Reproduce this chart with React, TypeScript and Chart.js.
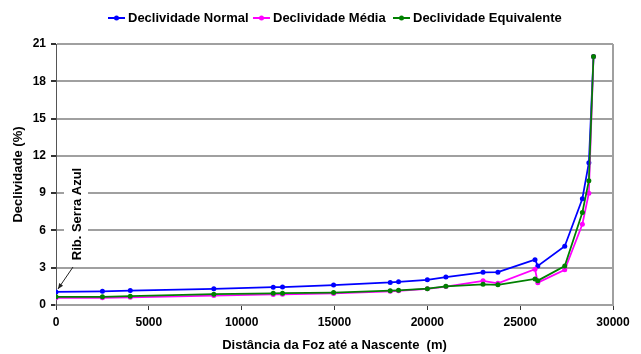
import React, { useEffect, useRef } from "react";
import { Chart, registerables } from "chart.js";

Chart.register(...registerables);

// Distance from the river mouth (m)
const distancia = [0, 2500, 4000, 8500, 11700, 12200, 14950, 18000, 18450, 20000, 21000, 23000, 23800, 25800, 25950, 27400, 28350, 28700, 28950];

// Slope (%) series
const declividadeNormal = [1.05, 1.1, 1.16, 1.3, 1.43, 1.44, 1.6, 1.82, 1.87, 2.03, 2.25, 2.63, 2.64, 3.65, 3.14, 4.73, 8.55, 11.45, 20.0];
const declividadeMedia = [0.58, 0.58, 0.62, 0.76, 0.85, 0.86, 0.93, 1.1, 1.14, 1.3, 1.48, 1.95, 1.74, 2.88, 1.8, 2.83, 6.5, 9.0, 20.0];
const declividadeEquivalente = [0.66, 0.66, 0.71, 0.87, 0.94, 0.95, 1.0, 1.15, 1.18, 1.31, 1.5, 1.66, 1.62, 2.1, 1.96, 3.13, 7.45, 10.0, 20.0];

const yTicks = [0, 3, 6, 9, 12, 15, 18, 21];
const xTicks = [0, 5000, 10000, 15000, 20000, 25000, 30000];

const legendLabels = ["Declividade Normal", "Declividade Média", "Declividade Equivalente"];
const seriesColors = ["#0000ff", "#ff00ff", "#008000"];

const yTitle = "Declividade (%)";
const xTitle = "Distância da Foz até a Nascente  (m)";
const annotationText = "Rib. Serra Azul";

const FONT = '"Liberation Sans", Arial, sans-serif';

const toPoints = (ys: number[]) => distancia.map((x, i) => ({ x, y: ys[i] }));

const decorations = {
  id: "decorations",
  afterDatasetsDraw(chart: any) {
    const { ctx, chartArea } = chart;
    ctx.save();

    // right border of the plot area
    ctx.strokeStyle = "#a0a0a0";
    ctx.lineWidth = 2;
    ctx.beginPath();
    ctx.moveTo(chartArea.right, chartArea.top);
    ctx.lineTo(chartArea.right, chartArea.bottom);
    ctx.stroke();

    // river label with white backing box
    ctx.fillStyle = "#ffffff";
    ctx.fillRect(64, 163, 24, 102);
    ctx.save();
    ctx.translate(77, 214);
    ctx.rotate(-Math.PI / 2);
    ctx.fillStyle = "#000";
    ctx.font = `bold 13px ${FONT}`;
    ctx.textAlign = "center";
    ctx.textBaseline = "middle";
    ctx.fillText(annotationText, 0, 0);
    ctx.restore();

    // arrow toward the first point
    const x0 = 73, y0 = 267;
    const x1 = chart.scales.x.getPixelForValue(distancia[0]) + 2;
    const y1 = chart.scales.y.getPixelForValue(declividadeNormal[0]) - 3;
    ctx.strokeStyle = "#222";
    ctx.lineWidth = 1;
    ctx.beginPath();
    ctx.moveTo(x0, y0);
    ctx.lineTo(x1, y1);
    ctx.stroke();
    const ang = Math.atan2(y1 - y0, x1 - x0);
    ctx.fillStyle = "#222";
    ctx.beginPath();
    ctx.moveTo(x1, y1);
    ctx.lineTo(x1 - 6 * Math.cos(ang - 0.4), y1 - 6 * Math.sin(ang - 0.4));
    ctx.lineTo(x1 - 6 * Math.cos(ang + 0.4), y1 - 6 * Math.sin(ang + 0.4));
    ctx.closePath();
    ctx.fill();

    ctx.restore();
  },
  afterDraw(chart: any) {
    const { ctx, chartArea } = chart;
    ctx.save();
    ctx.fillStyle = "#000";

    // axis titles
    ctx.font = `bold 13px ${FONT}`;
    ctx.textAlign = "center";
    ctx.textBaseline = "middle";
    ctx.fillText(xTitle, (chartArea.left + chartArea.right) / 2, 345);
    ctx.save();
    ctx.translate(18.5, (chartArea.top + chartArea.bottom) / 2);
    ctx.rotate(-Math.PI / 2);
    ctx.fillText(yTitle, 0, 0);
    ctx.restore();

    // legend
    const legendX = [108, 253, 393];
    const ly = 18;
    ctx.textAlign = "left";
    legendLabels.forEach((label, i) => {
      const lx = legendX[i];
      ctx.strokeStyle = seriesColors[i];
      ctx.lineWidth = 2;
      ctx.beginPath();
      ctx.moveTo(lx, ly);
      ctx.lineTo(lx + 17, ly);
      ctx.stroke();
      ctx.fillStyle = seriesColors[i];
      ctx.beginPath();
      ctx.arc(lx + 8.5, ly, 2.5, 0, Math.PI * 2);
      ctx.fill();
      ctx.fillStyle = "#000";
      ctx.fillText(label, lx + 20, ly);
    });

    ctx.restore();
  },
};

export default function App() {
  const canvasRef = useRef<HTMLCanvasElement | null>(null);

  useEffect(() => {
    const canvas = canvasRef.current;
    if (!canvas) return;
    const seriesData = [declividadeNormal, declividadeMedia, declividadeEquivalente];
    const chart = new Chart(canvas, {
      type: "line",
      data: {
        datasets: seriesData.map((ys, i) => ({
          label: legendLabels[i],
          data: toPoints(ys),
          borderColor: seriesColors[i],
          backgroundColor: seriesColors[i],
          borderWidth: 1.75,
          pointRadius: 2.5,
          pointBorderWidth: 0,
          pointStyle: "circle",
          tension: 0,
          fill: false,
          order: 2 - i,
        })),
      },
      options: {
        animation: false,
        responsive: false,
        maintainAspectRatio: false,
        layout: { padding: { top: 44, right: 28, left: 0, bottom: 0 } },
        plugins: {
          legend: { display: false },
          tooltip: { enabled: false },
        },
        scales: {
          x: {
            type: "linear",
            min: 0,
            max: 30000,
            afterFit: (s: any) => {
              s.height = 49;
            },
            afterBuildTicks: (s: any) => {
              s.ticks = xTicks.map((v) => ({ value: v }));
            },
            ticks: {
              color: "#000",
              font: { family: FONT, size: 12, weight: "bold" },
              padding: 5,
              maxRotation: 0,
              callback: (v: any) => String(v),
            },
            grid: {
              drawOnChartArea: false,
              drawTicks: true,
              tickLength: 5,
              tickColor: "#333",
            },
            border: { display: true, color: "#a0a0a0", width: 2 },
          },
          y: {
            min: 0,
            max: 21,
            afterFit: (s: any) => {
              s.width = 56;
            },
            afterBuildTicks: (s: any) => {
              s.ticks = yTicks.map((v) => ({ value: v }));
            },
            ticks: {
              color: "#000",
              font: { family: FONT, size: 12, weight: "bold" },
              padding: 5,
            },
            grid: {
              color: "#a0a0a0",
              lineWidth: 2,
              drawTicks: true,
              tickLength: 5,
              tickColor: "#333",
            },
            border: { display: true, color: "#555", width: 1 },
          },
        },
      },
      plugins: [decorations],
    });
    return () => chart.destroy();
  }, []);

  return (
    <div style={{ position: "absolute", left: 0, top: 0, width: 641, height: 354, background: "#fff" }}>
      <canvas ref={canvasRef} width={641} height={354} />
    </div>
  );
}
